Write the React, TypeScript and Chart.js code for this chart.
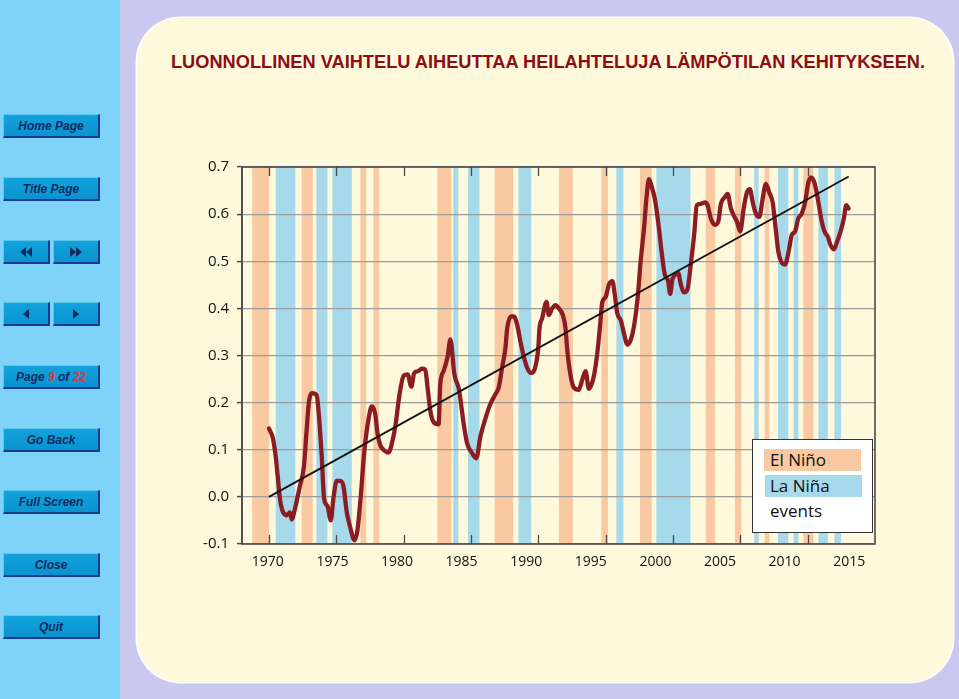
import React, { useEffect, useRef } from "react";
import { Chart, registerables } from "chart.js";

Chart.register(...registerables);

// ---------------- data ----------------
const titleText = "LUONNOLLINEN VAIHTELU AIHEUTTAA HEILAHTELUJA LÄMPÖTILAN KEHITYKSEEN.";

const lineYears = [
  1970.0, 1970.3, 1970.5, 1970.65, 1970.82, 1971.0, 1971.3, 1971.56, 1971.69, 1971.93,
  1972.3, 1972.6, 1972.8, 1972.98, 1973.2, 1973.55, 1973.7, 1973.92, 1974.1, 1974.34,
  1974.59, 1974.78, 1975.03, 1975.28, 1975.53, 1975.78, 1976.03, 1976.35, 1976.57, 1976.82,
  1977.07, 1977.4, 1977.64, 1977.89, 1978.06, 1978.26, 1978.5, 1978.88, 1979.13, 1979.38,
  1979.7, 1980.0, 1980.3, 1980.57, 1980.79, 1981.1, 1981.36, 1981.6, 1981.78, 1981.98,
  1982.22, 1982.6, 1982.72, 1982.97, 1983.27, 1983.47, 1983.77, 1984.1, 1984.46, 1984.71,
  1985.08, 1985.4, 1985.7, 1986.07, 1986.44, 1986.82, 1987.06, 1987.31, 1987.56, 1987.68,
  1987.98, 1988.18, 1988.43, 1988.67, 1988.9, 1989.17, 1989.42, 1989.67, 1989.87, 1990.0,
  1990.09, 1990.29, 1990.61, 1990.78, 1991.03, 1991.28, 1991.53, 1991.82, 1992.02, 1992.15,
  1992.4, 1992.64, 1993.0, 1993.27, 1993.51, 1993.76, 1994.13, 1994.38, 1994.58, 1994.75,
  1995.0, 1995.25, 1995.5, 1995.67, 1995.87, 1996.12, 1996.36, 1996.62, 1996.86, 1997.1,
  1997.36, 1997.6, 1997.85, 1998.05, 1998.22, 1998.4, 1998.65, 1998.9, 1999.15, 1999.39,
  1999.64, 1999.79, 1999.96, 2000.21, 2000.38, 2000.58, 2000.83, 2001.08, 2001.32, 2001.57,
  2001.77, 2002.07, 2002.37, 2002.57, 2002.81, 2003.11, 2003.36, 2003.56, 2003.85, 2004.05,
  2004.3, 2004.5, 2004.75, 2004.99, 2005.25, 2005.49, 2005.71, 2005.92, 2006.16, 2006.41,
  2006.66, 2006.9, 2007.15, 2007.4, 2007.65, 2007.82, 2008.02, 2008.32, 2008.59, 2008.82,
  2009.06, 2009.31, 2009.56, 2009.81, 2010.05, 2010.25, 2010.5, 2010.75, 2011.0, 2011.25,
  2011.5, 2011.69, 2011.94, 2012.19, 2012.44, 2012.69, 2012.86, 2013.04,
];

const lineValues = [
  0.145, 0.124, 0.086, 0.044, -0.005, -0.029, -0.039, -0.033, -0.048, -0.025,
  0.023, 0.065, 0.142, 0.204, 0.22, 0.215, 0.176, 0.086, -0.005, -0.019,
  -0.05, -0.005, 0.034, 0.034, 0.023, -0.033, -0.064, -0.092, -0.071, 0.002,
  0.093, 0.166, 0.192, 0.176, 0.135, 0.11, 0.1, 0.094, 0.114, 0.149,
  0.218, 0.257, 0.26, 0.234, 0.263, 0.267, 0.272, 0.27, 0.232, 0.183,
  0.159, 0.154, 0.239, 0.267, 0.298, 0.334, 0.26, 0.229, 0.155, 0.114,
  0.093, 0.082, 0.128, 0.166, 0.197, 0.218, 0.232, 0.274, 0.316, 0.355,
  0.383, 0.383, 0.365, 0.33, 0.3, 0.274, 0.263, 0.267, 0.288, 0.316,
  0.358, 0.379, 0.414, 0.386, 0.4, 0.407, 0.4, 0.386, 0.358, 0.312,
  0.257, 0.232, 0.227, 0.249, 0.267, 0.229, 0.257, 0.305, 0.361, 0.413,
  0.424, 0.451, 0.458, 0.431, 0.389, 0.375, 0.347, 0.323, 0.333, 0.361,
  0.417, 0.5, 0.57, 0.64, 0.674, 0.66, 0.633, 0.584, 0.521, 0.472,
  0.458, 0.431, 0.462, 0.472, 0.476, 0.451, 0.434, 0.441, 0.493, 0.556,
  0.619, 0.622, 0.625, 0.619, 0.591, 0.577, 0.584, 0.622, 0.636, 0.643,
  0.612, 0.598, 0.584, 0.563, 0.612, 0.646, 0.653, 0.625, 0.601, 0.594,
  0.633, 0.664, 0.646, 0.625, 0.563, 0.521, 0.5, 0.493, 0.521, 0.556,
  0.563, 0.591, 0.601, 0.625, 0.667, 0.678, 0.667, 0.633, 0.591, 0.563,
  0.552, 0.535, 0.525, 0.542, 0.563, 0.591, 0.619, 0.612,
];

const trendYears = [1970.0, 2013.05];
const trendValues = [0.0, 0.68];

const elNinoStart = [1968.76, 1972.43, 1976.79, 1977.76, 1982.5, 1986.76, 1991.53, 1994.68, 1997.55, 2002.44, 2004.6, 2006.81, 2009.68];
const elNinoEnd = [1970.02, 1973.25, 1977.22, 1978.18, 1983.54, 1988.13, 1992.57, 1995.17, 1998.42, 2003.13, 2005.07, 2007.15, 2010.42];
const laNinaStart = [1970.5, 1973.52, 1974.71, 1983.69, 1984.78, 1988.53, 1995.8, 1998.77, 2006.03, 2007.8, 2008.96, 2010.8, 2011.99];
const laNinaEnd = [1971.96, 1974.34, 1976.15, 1984.06, 1985.63, 1989.47, 1996.32, 2001.3, 2006.36, 2008.56, 2009.31, 2011.5, 2012.48];

const xTickMarks = [1970, 1975, 1980, 1985, 1990, 1995, 2000, 2005, 2010];
const xTickLabels = [1970, 1975, 1980, 1985, 1990, 1995, 2000, 2005, 2010, 2015];
const yTicks = [-0.1, 0.0, 0.1, 0.2, 0.3, 0.4, 0.5, 0.6, 0.7];

const legendLabels = ["El Niño", "La Niña", "events"];

const navButtons = ["Home Page", "Title Page", "ARROWS2", "ARROWS1", "PAGE", "Go Back", "Full Screen", "Close", "Quit"];

// ---------------- styles ----------------
const EL_NINO = "#f9c9a2";
const LA_NINA = "#a6d9ea";
const LINE_RED = "#8c1c24";
const FRAME = "#4a4a4a";

const bandsPlugin = {
  id: "ensoBands",
  beforeDraw(chart: any) {
    const { ctx, chartArea: a, scales } = chart;
    const x = scales.x;
    ctx.save();
    ctx.beginPath();
    ctx.rect(a.left, a.top, a.right - a.left, a.bottom - a.top);
    ctx.clip();
    const fill = (s: number[], e: number[], c: string) => {
      ctx.fillStyle = c;
      s.forEach((st, i) => {
        const x0 = x.getPixelForValue(st);
        const x1 = x.getPixelForValue(e[i]);
        ctx.fillRect(x0, a.top, x1 - x0, a.bottom - a.top);
      });
    };
    fill(elNinoStart, elNinoEnd, EL_NINO);
    fill(laNinaStart, laNinaEnd, LA_NINA);
    ctx.restore();
  },
  beforeDatasetsDraw(chart: any) {
    const { ctx, chartArea: a, scales } = chart;
    const x = scales.x;
    ctx.save();
    ctx.strokeStyle = FRAME;
    ctx.lineWidth = 1.6;
    ctx.strokeRect(a.left, a.top, a.right - a.left, a.bottom - a.top);
    ctx.lineWidth = 1.3;
    ctx.beginPath();
    xTickMarks.forEach((v) => {
      const px = Math.round(x.getPixelForValue(v)) + 0.5;
      ctx.moveTo(px, a.top);
      ctx.lineTo(px, a.top + 9);
      ctx.moveTo(px, a.bottom);
      ctx.lineTo(px, a.bottom - 9);
    });
    ctx.stroke();
    ctx.restore();
  },
};

function NavButton({ label, top }: { label: string; top: number }) {
  const base: React.CSSProperties = {
    position: "absolute",
    top,
    height: 24,
    boxSizing: "border-box",
    background: "linear-gradient(#12a2dc, #0a93d0)",
    borderTop: "1px solid #5cc6ee",
    borderLeft: "1px solid #5cc6ee",
    borderBottom: "2px solid #1d3b8e",
    borderRight: "2px solid #1d3b8e",
    color: "#0c2b5e",
    fontFamily: "'Liberation Sans', Arial, sans-serif",
    fontWeight: "bold",
    fontStyle: "italic",
    fontSize: 12,
    display: "flex",
    alignItems: "center",
    justifyContent: "center",
  };
  if (label === "ARROWS2" || label === "ARROWS1") {
    const dbl = label === "ARROWS2";
    const tri = (dir: "l" | "r") => (
      <span
        style={{
          display: "inline-block",
          width: 0,
          height: 0,
          borderTop: "5px solid transparent",
          borderBottom: "5px solid transparent",
          borderLeft: dir === "r" ? "6px solid #0c2b5e" : undefined,
          borderRight: dir === "l" ? "6px solid #0c2b5e" : undefined,
        }}
      />
    );
    return (
      <>
        <div style={{ ...base, left: 3, width: 47 }}>
          {tri("l")}
          {dbl ? tri("l") : null}
        </div>
        <div style={{ ...base, left: 53, width: 47 }}>
          {tri("r")}
          {dbl ? tri("r") : null}
        </div>
      </>
    );
  }
  if (label === "PAGE") {
    return (
      <div style={{ ...base, left: 3, width: 97 }}>
        <span>
          Page <span style={{ color: "#e0353a" }}>9</span> of <span style={{ color: "#e0353a" }}>22</span>
        </span>
      </div>
    );
  }
  return <div style={{ ...base, left: 3, width: 97 }}>{label}</div>;
}

export default function App() {
  const canvasRef = useRef<HTMLCanvasElement | null>(null);

  useEffect(() => {
    const canvas = canvasRef.current;
    if (!canvas) return;
    const chart = new Chart(canvas, {
      type: "line",
      data: {
        datasets: [
          {
            label: "trend",
            data: trendYears.map((yr, i) => ({ x: yr, y: trendValues[i] })),
            borderColor: "#111111",
            borderWidth: 1.8,
            pointRadius: 0,
            xAxisID: "x",
            yAxisID: "y",
            order: 0,
          },
          {
            label: "temperature",
            data: lineYears.map((yr, i) => ({ x: yr, y: lineValues[i] })),
            borderColor: LINE_RED,
            borderWidth: 4.3,
            pointRadius: 0,
            cubicInterpolationMode: "monotone",
            borderJoinStyle: "round",
            borderCapStyle: "round",
            xAxisID: "x",
            yAxisID: "y",
            order: 1,
          },
        ],
      },
      options: {
        responsive: false,
        maintainAspectRatio: false,
        animation: false,
        devicePixelRatio: 1,
        layout: { autoPadding: false, padding: { top: 11, right: 25, left: 0, bottom: 0 } },
        plugins: { legend: { display: false }, tooltip: { enabled: false } },
        events: [],
        scales: {
          x: { type: "linear", min: 1968, max: 2015, display: false },
          xl: {
            type: "linear",
            position: "bottom",
            min: 1968,
            max: 2017,
            afterBuildTicks: (s: any) => {
              s.ticks = xTickLabels.map((v) => ({ value: v }));
            },
            afterFit: (s: any) => {
              s.height = 36;
            },
            grid: { display: false, drawTicks: false },
            border: { display: false },
            ticks: {
              padding: 10,
              color: "#111111",
              autoSkip: false,
              maxRotation: 0,
              font: { family: "'Open Sans', 'Noto Sans', sans-serif", size: 14 },
              callback: (v: any) => String(v),
            },
          },
          y: {
            type: "linear",
            min: -0.1,
            max: 0.7,
            afterBuildTicks: (s: any) => {
              s.ticks = yTicks.map((v) => ({ value: v }));
            },
            afterFit: (s: any) => {
              s.width = 62;
            },
            grid: {
              color: "#9c9c9c",
              lineWidth: 1.2,
              drawTicks: true,
              tickLength: 5,
              tickColor: FRAME,
              tickWidth: 1.5,
            },
            border: { display: true, color: FRAME, width: 1.6 },
            ticks: {
              padding: 8,
              color: "#111111",
              font: { family: "'Open Sans', 'Noto Sans', sans-serif", size: 15 },
              callback: (v: any) => Number(v).toFixed(1),
            },
          },
        },
      },
      plugins: [bandsPlugin],
    } as any);
    return () => chart.destroy();
  }, []);

  const buttonTops = [114, 177, 240, 302, 365, 428, 490, 553, 615];

  return (
    <div
      style={{
        position: "fixed",
        left: 0,
        top: 0,
        width: 959,
        height: 699,
        background: "#c9c9f0",
        overflow: "hidden",
      }}
    >
      <div style={{ position: "absolute", left: 0, top: 0, width: 120, height: 699, background: "#7fd3f8" }} />
      {navButtons.map((b, i) => (
        <NavButton key={b} label={b} top={buttonTops[i]} />
      ))}
      <div
        style={{
          position: "absolute",
          left: 137,
          top: 18,
          width: 816,
          height: 664,
          background: "#fef8dc",
          borderRadius: 44,
          boxShadow: "0 0 0 1.5px #ffffff",
        }}
      />
      <svg style={{ position: "absolute", left: 0, top: 0 }} width={959} height={100}>
        <text
          x={171}
          y={68}
          textLength={754}
          lengthAdjust="spacingAndGlyphs"
          fill="#8c0d12"
          style={{ fontFamily: "'Liberation Sans', Arial, sans-serif", fontWeight: "bold", fontSize: 18 }}
        >
          {titleText}
        </text>
      </svg>
      <canvas
        ref={canvasRef}
        width={720}
        height={430}
        style={{ position: "absolute", left: 180, top: 150, width: 720, height: 430 }}
      />
      <div
        style={{
          position: "absolute",
          left: 752,
          top: 439,
          width: 121,
          height: 94,
          boxSizing: "border-box",
          background: "#ffffff",
          border: "1.5px solid #333333",
          fontFamily: "'Open Sans', 'Noto Sans', sans-serif",
          fontSize: 17,
          color: "#111111",
        }}
      >
        <div style={{ position: "absolute", left: 11, top: 9, width: 97, height: 22, background: EL_NINO }} />
        <div style={{ position: "absolute", left: 12, top: 35, width: 97, height: 22, background: LA_NINA }} />
        <div style={{ position: "absolute", left: 17, top: 9, height: 22, lineHeight: "22px" }}>{legendLabels[0]}</div>
        <div style={{ position: "absolute", left: 17, top: 35, height: 22, lineHeight: "22px" }}>{legendLabels[1]}</div>
        <div style={{ position: "absolute", left: 17, top: 60, height: 22, lineHeight: "22px" }}>{legendLabels[2]}</div>
      </div>
    </div>
  );
}
